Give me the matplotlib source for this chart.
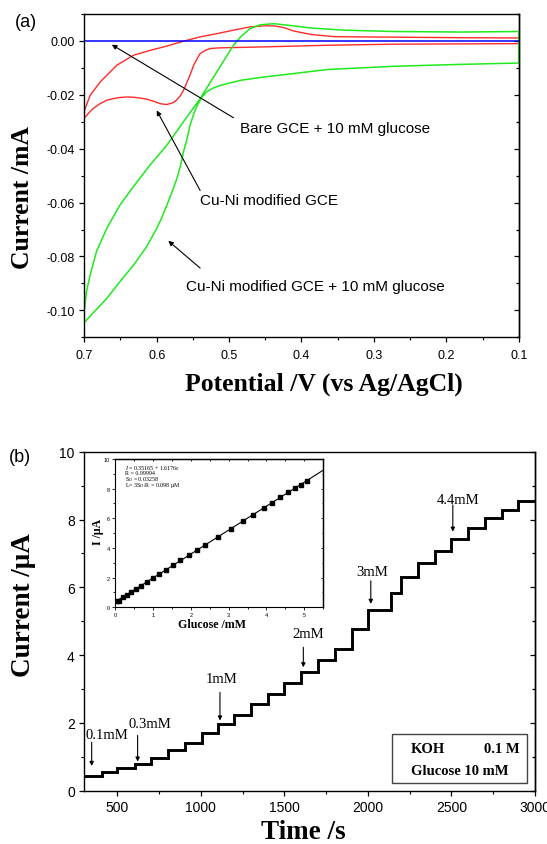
import matplotlib
matplotlib.use("Agg")
import matplotlib.pyplot as plt
from matplotlib.patches import Rectangle
from matplotlib.ticker import MultipleLocator

plt.rcParams.update({
    "font.family": "sans-serif",
    "font.sans-serif": ["Liberation Sans", "DejaVu Sans"],
    "font.serif": ["Liberation Serif", "DejaVu Serif"],
    "mathtext.fontset": "custom",
    "mathtext.rm": "Liberation Serif",
    "mathtext.it": "Liberation Serif:italic",
    "axes.linewidth": 1.0,
})

SERIF = "Liberation Serif"

# ---- panel (a): cyclic voltammograms (E in V, I in mA) ----
red_up_E = [0.700, 0.692, 0.678, 0.655, 0.632, 0.609, 0.586, 0.563, 0.540, 0.517, 0.494,
            0.471, 0.452, 0.438, 0.425, 0.411, 0.387, 0.355, 0.320, 0.272, 0.180, 0.100]
red_up_I = [-0.0260, -0.0202, -0.0152, -0.0090, -0.0053, -0.0035, -0.0019, -0.0001, 0.0015,
            0.0027, 0.0040, 0.0052, 0.0056, 0.0056, 0.0050, 0.0037, 0.0024, 0.0016, 0.0015,
            0.0014, 0.0012, 0.0011]
red_lo_E = [0.700, 0.694, 0.688, 0.679, 0.669, 0.660, 0.651, 0.641, 0.632, 0.623, 0.614,
            0.604, 0.595, 0.586, 0.577, 0.572, 0.567, 0.562, 0.558, 0.553, 0.549, 0.544,
            0.540, 0.533, 0.526, 0.515, 0.503, 0.466, 0.364, 0.272, 0.100]
red_lo_I = [-0.0286, -0.0268, -0.0251, -0.0234, -0.0220, -0.0214, -0.0210, -0.0208, -0.0209,
            -0.0212, -0.0216, -0.0224, -0.0233, -0.0236, -0.0229, -0.0218, -0.0202, -0.0178,
            -0.0152, -0.0120, -0.0090, -0.0065, -0.0047, -0.0035, -0.0028, -0.0026, -0.0025,
            -0.0023, -0.0016, -0.0012, -0.0010]

green_up_E = [0.700, 0.697, 0.692, 0.683, 0.669, 0.651, 0.632, 0.609, 0.586, 0.563, 0.540,
              0.517, 0.494, 0.484, 0.471, 0.457, 0.438, 0.411, 0.387, 0.341, 0.272, 0.180, 0.100]
green_up_I = [-0.1000, -0.0931, -0.0870, -0.0780, -0.0696, -0.0610, -0.0540, -0.0460, -0.0387,
              -0.0300, -0.0214, -0.0115, -0.0016, 0.0015, 0.0046, 0.0060, 0.0064, 0.0056,
              0.0048, 0.0040, 0.0035, 0.0033, 0.0035]
green_lo_E = [0.700, 0.688, 0.669, 0.651, 0.632, 0.614, 0.600, 0.593, 0.586, 0.579, 0.572,
              0.567, 0.563, 0.558, 0.554, 0.549, 0.544, 0.538, 0.531, 0.522, 0.512, 0.484,
              0.455, 0.411, 0.364, 0.272, 0.180, 0.100]
green_lo_I = [-0.1045, -0.1010, -0.0956, -0.0894, -0.0832, -0.0764, -0.0696, -0.0656, -0.0610,
              -0.0562, -0.0510, -0.0462, -0.0412, -0.0362, -0.0313, -0.0272, -0.0239, -0.0210,
              -0.0189, -0.0175, -0.0165, -0.0146, -0.0135, -0.0121, -0.0106, -0.0094, -0.0087,
              -0.0082]

bare_E = [0.70, 0.10]
bare_I = [0.0, 0.0]

# ---- panel (b): amperometric response ----
step_times = [300, 405, 500, 605, 700, 800, 903, 1005, 1100, 1198, 1300, 1404, 1500, 1600,
              1703, 1800, 1903, 2000, 2135, 2198, 2298, 2402, 2497, 2597, 2700, 2805, 2897, 3000]
step_current = [0.44, 0.56, 0.66, 0.78, 0.96, 1.20, 1.40, 1.70, 1.97, 2.23, 2.56, 2.85, 3.17,
                3.51, 3.86, 4.17, 4.77, 5.33, 5.83, 6.29, 6.72, 7.08, 7.42, 7.75, 8.04, 8.28, 8.55]

# inset calibration
calib_conc = [0.04, 0.11, 0.22, 0.31, 0.42, 0.55, 0.68, 0.85, 1.01, 1.16, 1.34, 1.52, 1.71,
              1.96, 2.17, 2.37, 2.72, 3.06, 3.37, 3.65, 3.93, 4.14, 4.35, 4.58, 4.75, 4.91, 5.08]
calib_I = [0.40, 0.45, 0.67, 0.85, 1.01, 1.21, 1.44, 1.69, 1.98, 2.25, 2.54, 2.83, 3.17, 3.53,
           3.86, 4.18, 4.77, 5.30, 5.80, 6.25, 6.68, 7.04, 7.42, 7.78, 8.02, 8.27, 8.52]
fit_intercept = 0.35165
fit_slope = 1.6176
fit_c = [0.0, 5.5]

W, H = 547, 845
fig = plt.figure(figsize=(W / 100, H / 100), dpi=100)


def fx(px):
    return px / W


def fy(py):
    return 1 - py / H


def right_ticks(ax, major, minor, length=3.6, width=0.9):
    r = ax.secondary_yaxis("right")
    r.yaxis.set_major_locator(MultipleLocator(major))
    r.yaxis.set_minor_locator(MultipleLocator(minor))
    r.tick_params(which="both", direction="in", labelright=False, width=width)
    r.tick_params(which="major", length=length)
    r.tick_params(which="minor", length=length * 0.65)
    return r


# =============================================================================
# (a)
# =============================================================================
axa = fig.add_axes([fx(84.3), fy(338.3), fx(518.7 - 84.3), (338.3 - 15) / H])
axa.plot(red_up_E + red_lo_E[::-1] + red_up_E[:1], red_up_I + red_lo_I[::-1] + red_up_I[:1],
         color="#FF2A2A", lw=1.0)
axa.plot(green_up_E + green_lo_E[::-1] + green_up_E[:1],
         green_up_I + green_lo_I[::-1] + green_up_I[:1], color="#1EEA1E", lw=1.1)
axa.plot(bare_E, bare_I, color="#0000FF", lw=1.1)
axa.set_xlim(0.7, 0.1)
axa.set_ylim(-0.11, 0.01)
axa.xaxis.set_major_locator(MultipleLocator(0.1))
axa.xaxis.set_minor_locator(MultipleLocator(0.05))
axa.yaxis.set_major_locator(MultipleLocator(0.02))
axa.yaxis.set_minor_locator(MultipleLocator(0.01))
axa.xaxis.set_major_formatter(lambda v, p: f"{v:.1f}")
axa.yaxis.set_major_formatter(lambda v, p: "0.00" if abs(v) < 1e-9 else f"{v:.2f}")
axa.tick_params(which="both", direction="out", labelsize=9)
axa.tick_params(axis="x", pad=5)
axa.tick_params(which="major", length=3.6, width=0.9)
axa.tick_params(which="minor", length=2.4, width=0.8)
right_ticks(axa, 0.02, 0.01)

arrow_kw = dict(arrowstyle="-|>", color="black", lw=0.8, mutation_scale=7, shrinkA=0, shrinkB=0)
axa.annotate("", xy=(0.662, -0.0014), xytext=(0.494, -0.0285), arrowprops=arrow_kw)
axa.text(0.485, -0.0323, "Bare GCE + 10 mM glucose", fontsize=11, va="center", ha="left")
axa.annotate("", xy=(0.600, -0.0258), xytext=(0.540, -0.0555), arrowprops=arrow_kw)
axa.text(0.540, -0.0592, "Cu-Ni modified GCE", fontsize=11, va="center", ha="left")
axa.annotate("", xy=(0.584, -0.0742), xytext=(0.540, -0.0843), arrowprops=arrow_kw)
axa.text(0.560, -0.0909, "Cu-Ni modified GCE + 10 mM glucose", fontsize=11, va="center", ha="left")

fig.text(fx(26), fy(22.7), "(a)", fontsize=13, ha="center", va="center")
fig.text(fx(23), fy(197.5), "Current /mA", family=SERIF, weight="bold", fontsize=18.5,
         rotation=90, ha="center", va="center")
fig.text(fx(323.5), fy(391), "Potential /V (vs Ag/AgCl)", family=SERIF, weight="bold",
         fontsize=18.5, ha="center", va="baseline")

# =============================================================================
# (b)
# =============================================================================
axb = fig.add_axes([fx(84), fy(791.7), fx(535 - 84), (791.7 - 452.7) / H])
axb.stairs(step_current, step_times, color="black", lw=2.1, baseline=None)
axb.set_xlim(300, 3000)
axb.set_ylim(0, 10)
axb.xaxis.set_major_locator(MultipleLocator(500))
axb.xaxis.set_minor_locator(MultipleLocator(250))
axb.yaxis.set_major_locator(MultipleLocator(2))
axb.yaxis.set_minor_locator(MultipleLocator(1))
axb.tick_params(which="both", direction="out", labelsize=10, pad=3)
axb.tick_params(which="major", length=3.6, width=0.9)
axb.tick_params(which="minor", length=2.4, width=0.8)
right_ticks(axb, 2, 1)

labels_b = [("0.1mM", 435, 1.67, 346, 1.43, 0.73),
            ("0.3mM", 695, 1.97, 621, 1.63, 0.86),
            ("1mM", 1124, 3.30, 1114, 2.90, 2.07),
            ("2mM", 1643, 4.64, 1613, 4.23, 3.64),
            ("3mM", 2022, 6.46, 2017, 6.19, 5.51),
            ("4.4mM", 2541, 8.60, 2508, 8.43, 7.64)]
for txt, tx, ty, ax_x, y0, y1 in labels_b:
    axb.text(tx, ty, txt, family=SERIF, fontsize=10.5, ha="center", va="center")
    axb.annotate("", xy=(ax_x, y1), xytext=(ax_x, y0),
                 arrowprops=dict(arrowstyle="-|>", color="black", lw=0.8, mutation_scale=6,
                                 shrinkA=0, shrinkB=0))

axb.add_patch(Rectangle(((392.3 - 84) / 451, (791.7 - 784) / 339), (526.7 - 392.3) / 451,
                        (784 - 735) / 339, transform=axb.transAxes, fill=False,
                        edgecolor="#444444", lw=1.0))
axb.text((410.7 - 84) / 451, (791.7 - 750) / 339, "KOH", transform=axb.transAxes,
         family=SERIF, weight="bold", fontsize=10.5, ha="left", va="center")
axb.text((520 - 84) / 451, (791.7 - 750) / 339, "0.1 M", transform=axb.transAxes,
         family=SERIF, weight="bold", fontsize=10.5, ha="right", va="center")
axb.text((410.7 - 84) / 451, (791.7 - 771.7) / 339, "Glucose 10 mM", transform=axb.transAxes,
         family=SERIF, weight="bold", fontsize=10.5, ha="left", va="center")

fig.text(fx(20), fy(458), "(b)", fontsize=13, ha="center", va="center")
fig.text(fx(23), fy(605), "Current /\u03bcA", family=SERIF, weight="bold", fontsize=19.5,
         rotation=90, ha="center", va="center")
fig.text(fx(303.5), fy(839), "Time /s", family=SERIF, weight="bold", fontsize=19.5,
         ha="center", va="baseline")

# ---- inset ----
axi = fig.add_axes([fx(115), fy(608.3), fx(323.3 - 115), (608.3 - 460) / H])
fit_I = [fit_intercept + fit_slope * c for c in fit_c]
axi.plot(fit_c, fit_I, color="black", lw=0.8)
axi.plot(calib_conc, calib_I, "s", color="black", ms=2.2)
axi.set_xlim(0, 5.5)
axi.set_ylim(0, 10)
axi.xaxis.set_major_locator(MultipleLocator(1))
axi.xaxis.set_minor_locator(MultipleLocator(0.5))
axi.yaxis.set_major_locator(MultipleLocator(2))
axi.yaxis.set_minor_locator(MultipleLocator(1))
for s in axi.spines.values():
    s.set_linewidth(0.8)
axi.tick_params(which="both", direction="out", labelsize=4, pad=1.5, width=0.6)
axi.tick_params(which="major", length=2)
axi.tick_params(which="minor", length=1.2)
right_ticks(axi, 2, 1, length=1.6, width=0.6)
ti = axi.secondary_xaxis("top")
ti.xaxis.set_major_locator(MultipleLocator(1))
ti.xaxis.set_minor_locator(MultipleLocator(0.5))
ti.tick_params(which="both", direction="in", labeltop=False, width=0.6, length=1.5)

inset_lines = [r"$I$ = 0.35165 + 1.6176c", "R = 0.99994", r"S$_\mathrm{D}$ = 0.03258",
               r"L= 3S$_\mathrm{D}$/R = 0.098 $\mathrm{\mu}$M"]
for k, line in enumerate(inset_lines):
    axi.text((125 - 115) / 208.3, (608.3 - (467.5 + 5.9 * k)) / 148.3, line,
             transform=axi.transAxes, family=SERIF, fontsize=4.3, ha="left", va="center")
fig.text(fx(212.5), fy(625), "Glucose /mM", family=SERIF, weight="bold", fontsize=8.6,
         ha="center", va="center")
fig.text(fx(98), fy(531.7), "I /\u03bcA", family=SERIF, weight="bold", fontsize=8.6,
         rotation=90, ha="center", va="center")

fig.savefig("out.png", dpi=100)
